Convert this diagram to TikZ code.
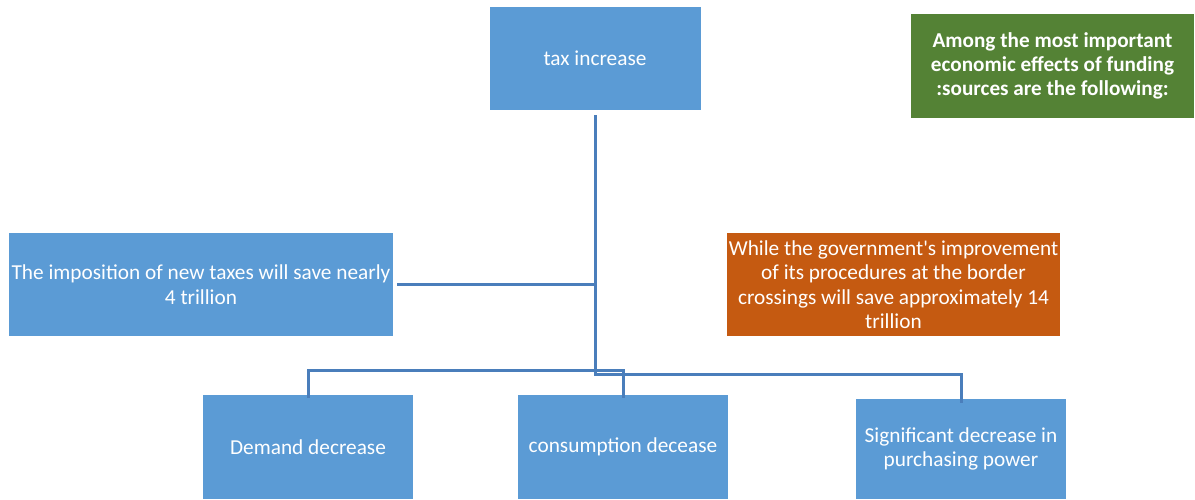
\documentclass[tikz,border=0pt]{standalone}
\usepackage{fontspec}
\setmainfont{Carlito}
\definecolor{boxblue}{HTML}{5B9BD5}
\definecolor{boxorange}{HTML}{C55A11}
\definecolor{boxgreen}{HTML}{548235}
\definecolor{linkblue}{HTML}{4A7EBB}
\begin{document}
\begin{tikzpicture}[x=1pt,y=-1pt,
  box/.style={fill=boxblue, text=white, inner sep=0pt, align=center,
    font=\fontsize{21.3}{24.5}\selectfont},
  conn/.style={draw=linkblue, line width=3pt}]
\useasboundingbox (0,0) rectangle (1195,499);
\node[box, minimum width=211, minimum height=103] (tax) at (595,58.5) {tax increase};
\node[box, fill=boxgreen, minimum width=283, minimum height=104,
  font=\fontsize{21.2}{24.3}\selectfont\bfseries] (green) at (1052.5,66)
  {Among the most important\\economic effects of funding\\:sources are the following:};
\node[box, minimum width=384, minimum height=103] (left) at (201,284.5)
  {The imposition of new taxes will save nearly\\4 trillion};
\node[box, fill=boxorange, minimum width=333, minimum height=103] (orange) at (893.5,284.5)
  {While the government\textquotesingle s improvement\\of its procedures at the border\\crossings will save approximately 14\\trillion};
\node[box, minimum width=210, minimum height=104] (demand) at (308,447)
  {Demand decrease};
\node[box, minimum width=210, minimum height=104] (cons) at (623,447)
  {consumption decease};
\node[box, minimum width=210, minimum height=100] (sig) at (961,449)
  {Significant decrease in\\purchasing power};
\coordinate (j1) at (595,374);
\coordinate (j2) at (595,370);
\draw[conn] ([yshift=-5pt]tax.south) -- (tax.south |- j1) -| ([yshift=-4pt]sig.north);
\draw[conn] ([xshift=4pt]left.east) -- (left.east -| tax.south);
\draw[conn] ([yshift=-3pt]demand.north) |- (j2) -| ([yshift=-3pt]cons.north);
\end{tikzpicture}
\end{document}
